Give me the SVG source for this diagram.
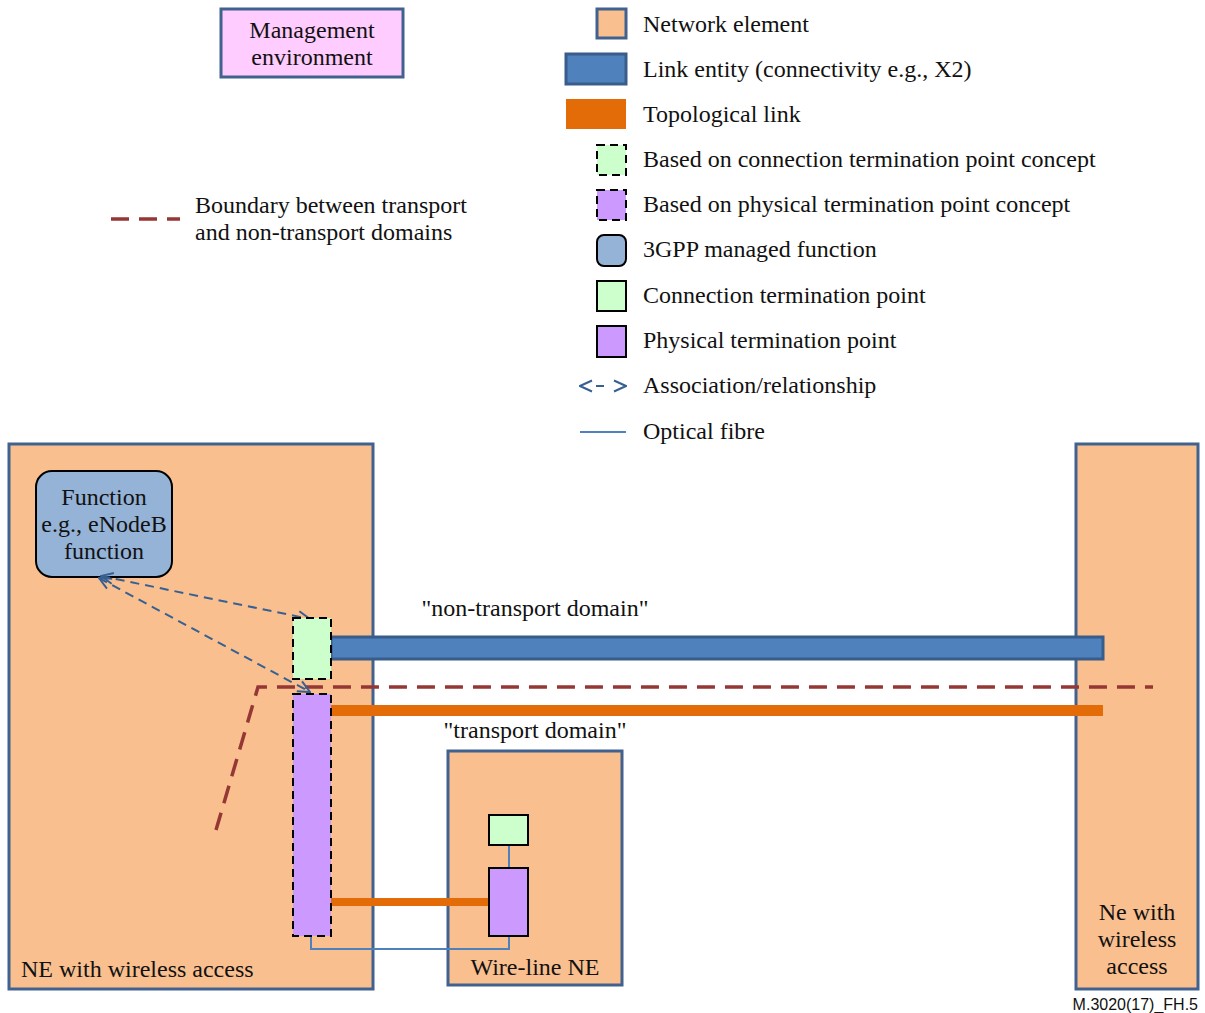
<svg xmlns="http://www.w3.org/2000/svg" width="1205" height="1013" viewBox="0 0 1205 1013">
<style>
text{font-family:"Liberation Serif","Times New Roman",serif;font-size:24px;fill:#111}
.ne{fill:#F9BF8F;stroke:#41618F;stroke-width:3}
.ctp{fill:#CCFFCC;stroke:#000;stroke-width:2}
.ptp{fill:#CC99FF;stroke:#000;stroke-width:2}
.dash{stroke-dasharray:8,5}
.fib{fill:none;stroke:#4F81BD;stroke-width:2}
.assoc{fill:none;stroke:#376092;stroke-width:2;stroke-dasharray:9,6}
.bnd{fill:none;stroke:#953735;stroke-width:3.5;stroke-dasharray:18,10}
</style>
<defs>
<marker id="ah" viewBox="0 0 14 14" refX="13" refY="7" markerWidth="14" markerHeight="14" markerUnits="userSpaceOnUse" orient="auto-start-reverse">
<path d="M1,1.5 L13,7 L1,12.5" fill="none" stroke="#376092" stroke-width="2"/>
</marker>
</defs>
<rect width="1205" height="1013" fill="#fff"/>

<g id="legend">
<g id="mgmt">
<rect x="221" y="9" width="182" height="68" fill="#FFCCFF" stroke="#41618F" stroke-width="3"/>
<text x="312" y="38" text-anchor="middle">Management</text>
<text x="312" y="65" text-anchor="middle">environment</text>
</g>
<rect x="597" y="9" width="29" height="29" class="ne"/>
<text x="643" y="32">Network element</text>
<rect x="566" y="54" width="60" height="30" fill="#4F81BD" stroke="#385D8A" stroke-width="3"/>
<text x="643" y="77">Link entity (connectivity e.g., X2)</text>
<rect x="566" y="99" width="60" height="30" fill="#E36C09"/>
<text x="643" y="122">Topological link</text>
<rect x="597" y="145" width="29" height="30" class="ctp dash"/>
<text x="643" y="167">Based on connection termination point concept</text>
<rect x="597" y="190" width="29" height="30" class="ptp dash"/>
<text x="643" y="212">Based on physical termination point concept</text>
<rect x="597" y="235" width="29" height="31" rx="7" fill="#95B3D7" stroke="#000" stroke-width="2"/>
<text x="643" y="257">3GPP managed function</text>
<rect x="597" y="281" width="29" height="30" class="ctp"/>
<text x="643" y="303">Connection termination point</text>
<rect x="597" y="326" width="29" height="31" class="ptp"/>
<text x="643" y="348">Physical termination point</text>
<line x1="580" y1="386" x2="626" y2="386" stroke="#376092" stroke-width="2" stroke-dasharray="0,16,8,40" marker-start="url(#ah)" marker-end="url(#ah)"/>
<text x="643" y="393">Association/relationship</text>
<line x1="580" y1="432" x2="626" y2="432" stroke="#4F81BD" stroke-width="2"/>
<text x="643" y="439">Optical fibre</text>
<line x1="111" y1="219" x2="180" y2="219" class="bnd"/>
<text x="195" y="213">Boundary between transport</text>
<text x="195" y="240">and non-transport domains</text>
</g>

<g id="ne-left">
<rect x="9" y="444" width="364" height="545" class="ne"/>
<text x="21" y="977">NE with wireless access</text>
</g>
<g id="ne-right">
<rect x="1076" y="444" width="122" height="545" class="ne"/>
<text x="1137" y="920" text-anchor="middle">Ne with</text>
<text x="1137" y="947" text-anchor="middle">wireless</text>
<text x="1137" y="974" text-anchor="middle">access</text>
</g>
<g id="ne-wireline">
<rect x="448" y="751" width="174" height="234" class="ne"/>
<text x="535" y="975" text-anchor="middle">Wire-line NE</text>
</g>
<g id="function">
<rect x="36" y="471" width="136" height="106" rx="16" fill="#95B3D7" stroke="#000" stroke-width="2"/>
<text x="104" y="505" text-anchor="middle">Function</text>
<text x="104" y="532" text-anchor="middle">e.g., eNodeB</text>
<text x="104" y="559" text-anchor="middle">function</text>
</g>

<g id="connectors">
<rect x="331" y="637" width="772" height="22" fill="#4F81BD" stroke="#385D8A" stroke-width="3"/>
<rect x="331" y="705" width="772" height="11" fill="#E36C09"/>
<rect x="331" y="898" width="158" height="8" fill="#E36C09"/>
<path d="M311,936 V949 H509 V936" class="fib"/>
<line x1="509" y1="845" x2="509" y2="868" class="fib"/>
<polyline points="216,830 258,687 1153,687" class="bnd"/>
<line x1="101" y1="576" x2="310" y2="619" class="assoc" marker-start="url(#ah)" marker-end="url(#ah)"/>
<line x1="99" y1="578" x2="310" y2="692" class="assoc" marker-start="url(#ah)" marker-end="url(#ah)"/>
<text x="535" y="616" text-anchor="middle">"non-transport domain"</text>
<text x="535" y="738" text-anchor="middle">"transport domain"</text>
</g>

<g id="ctp-left"><rect x="293" y="618" width="38" height="61" class="ctp dash"/></g>
<g id="ptp-left"><rect x="293" y="694" width="38" height="242" class="ptp dash"/></g>
<g id="ctp-wire"><rect x="489" y="815" width="39" height="30" class="ctp"/></g>
<g id="ptp-wire"><rect x="489" y="868" width="39" height="68" class="ptp"/></g>

<text x="1198" y="1010" text-anchor="end" style="font-family:'Liberation Sans',Arial,sans-serif;font-size:16px">M.3020(17)_FH.5</text>
</svg>
